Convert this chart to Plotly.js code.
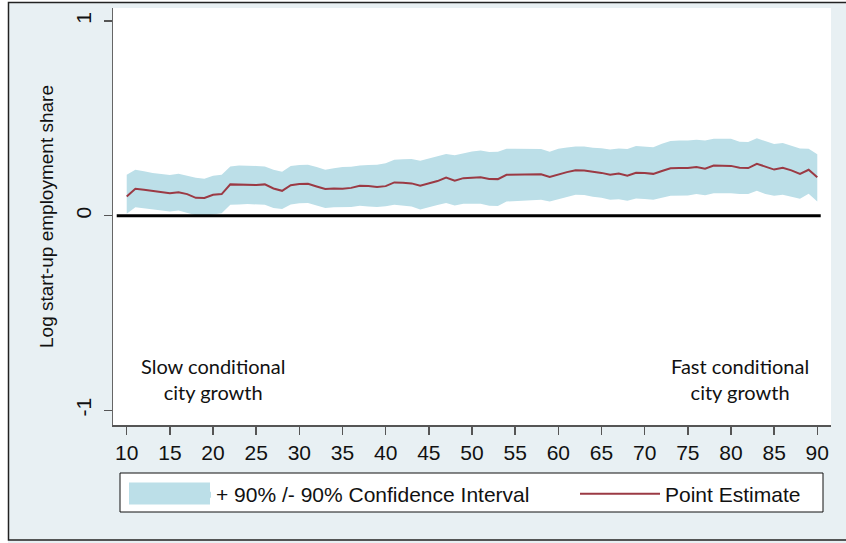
<!DOCTYPE html>
<html><head><meta charset="utf-8">
<script src="https://cdn.plot.ly/plotly-3.0.1.min.js"></script>
<style>html,body{margin:0;padding:0;background:#fff}#chart{width:846px;height:543px}</style>
</head><body><div id="chart"></div>
<script>
const xValues = [10,11,12,13,14,15,16,17,18,19,20,21,22,23,24,25,26,27,28,29,30,31,32,33,34,35,36,37,38,39,40,41,42,43,44,45,46,47,48,49,50,51,52,53,54,55,56,57,58,59,60,61,62,63,64,65,66,67,68,69,70,71,72,73,74,75,76,77,78,79,80,81,82,83,84,85,86,87,88,89,90];
const pointEstimate = [0.099,0.138,0.133,0.128,0.122,0.116,0.121,0.111,0.092,0.091,0.108,0.111,0.161,0.160,0.157,0.158,0.161,0.140,0.128,0.157,0.163,0.164,0.150,0.137,0.140,0.139,0.143,0.154,0.153,0.148,0.152,0.171,0.170,0.166,0.154,0.165,0.178,0.196,0.180,0.193,0.196,0.198,0.189,0.188,0.210,0.210,0.210,0.212,0.213,0.199,0.213,0.224,0.234,0.232,0.226,0.220,0.210,0.217,0.205,0.221,0.219,0.215,0.230,0.244,0.245,0.245,0.250,0.242,0.258,0.257,0.256,0.246,0.245,0.267,0.251,0.237,0.246,0.233,0.215,0.236,0.197];
const upperCI = [0.210,0.236,0.228,0.219,0.214,0.209,0.216,0.207,0.195,0.190,0.205,0.210,0.253,0.258,0.258,0.256,0.253,0.236,0.226,0.255,0.260,0.262,0.250,0.236,0.244,0.250,0.252,0.258,0.260,0.262,0.270,0.287,0.290,0.291,0.282,0.295,0.305,0.317,0.310,0.320,0.330,0.335,0.327,0.328,0.344,0.344,0.343,0.344,0.343,0.328,0.344,0.350,0.356,0.356,0.349,0.346,0.340,0.345,0.343,0.358,0.355,0.352,0.370,0.384,0.386,0.386,0.390,0.386,0.395,0.395,0.395,0.380,0.379,0.398,0.385,0.368,0.373,0.357,0.345,0.344,0.316];
const lowerCI = [0.010,0.044,0.039,0.034,0.028,0.022,0.027,0.015,0.003,0.000,0.005,0.013,0.056,0.058,0.060,0.058,0.056,0.040,0.034,0.058,0.064,0.065,0.052,0.040,0.044,0.046,0.045,0.051,0.048,0.045,0.049,0.056,0.052,0.047,0.032,0.045,0.055,0.065,0.053,0.061,0.063,0.062,0.051,0.050,0.073,0.075,0.077,0.080,0.082,0.073,0.084,0.096,0.108,0.107,0.098,0.092,0.082,0.085,0.077,0.088,0.086,0.082,0.092,0.102,0.103,0.104,0.111,0.105,0.116,0.116,0.116,0.112,0.112,0.128,0.112,0.103,0.108,0.099,0.087,0.113,0.073];
const xTickVals = [10,15,20,25,30,35,40,45,50,55,60,65,70,75,80,85,90];
const yTickVals = [-1,0,1];
const yTickText = ['-1','0','1'];
const seriesNames = ['+ 90% /- 90% Confidence Interval','Point Estimate'];
const noteLeft = 'Slow conditional<br>city growth';
const noteRight = 'Fast conditional<br>city growth';
const yTitle = 'Log start-up employment share';

const W = 846, H = 543, ML = 113, MR = 15, MT = 8, MB = 118;
const pw = W - ML - MR, ph = H - MT - MB;
const px = v => (v - ML) / pw;
const py = v => (H - MB - v) / ph;

const font = 'Arial, "Liberation Sans", sans-serif';
const noteFont = 'Lato, "Open Sans", sans-serif';
const bandColor = '#bcdfe8';
const lineColor = '#9b3a44';

// CI band as one closed polygon: upper bound left→right, lower bound right→left
const bandX = xValues.concat(xValues.slice().reverse());
const bandY = upperCI.concat(lowerCI.slice().reverse());

const traces = [
  {x: bandX, y: bandY, mode: 'lines', fill: 'toself', fillcolor: bandColor, line: {width: 0, color: bandColor},
   name: seriesNames[0], legend: 'legend', hoverinfo: 'skip'},
  {x: xValues, y: pointEstimate, mode: 'lines', line: {width: 2, color: lineColor}, name: seriesNames[1], legend: 'legend2'}
];

const legendFont = {family: font, size: 21, color: '#111'};

const layout = {
  width: W, height: H,
  margin: {l: ML, r: MR, t: MT, b: MB, pad: 0},
  paper_bgcolor: '#e8f0f3',
  plot_bgcolor: '#ffffff',
  font: {family: font, size: 19, color: '#111'},
  xaxis: {range: [8.41, 91.59], tickvals: xTickVals, ticks: 'outside', ticklen: 8, tickwidth: 1.5, tickcolor: '#555',
          showline: true, linecolor: '#555', linewidth: 1.5, showgrid: false, zeroline: false,
          tickfont: {family: font, size: 21, color: '#111'}},
  yaxis: {range: [-1.075, 1.067], tickvals: yTickVals, ticktext: yTickText, tickangle: -90, ticks: 'outside', ticklen: 8,
          tickwidth: 1.5, tickcolor: '#555', showline: true, linecolor: '#666', linewidth: 1.5, showgrid: false, zeroline: false,
          ticklabelstandoff: 4,
          tickfont: {family: font, size: 21, color: '#111'},
          title: {text: yTitle, font: {family: font, size: 19, color: '#111'}, standoff: 13}},
  showlegend: true,
  legend: {orientation: 'h', x: px(125), y: py(494), xanchor: 'left', yanchor: 'middle', bgcolor: 'rgba(0,0,0,0)', borderwidth: 0,
           itemwidth: 81, font: legendFont},
  legend2: {orientation: 'h', x: px(575), y: py(494), xanchor: 'left', yanchor: 'middle', bgcolor: 'rgba(0,0,0,0)', borderwidth: 0,
           itemwidth: 80, font: legendFont},
  shapes: [
    {type: 'rect', xref: 'paper', yref: 'paper', x0: px(0), x1: px(8), y0: py(0), y1: py(H), fillcolor: '#ffffff', line: {width: 0}, layer: 'below'},
    {type: 'rect', xref: 'paper', yref: 'paper', x0: px(0), x1: px(W), y0: py(0), y1: py(2), fillcolor: '#ffffff', line: {width: 0}, layer: 'below'},
    {type: 'rect', xref: 'paper', yref: 'paper', x0: px(8.5), x1: px(W + 10), y0: py(2.5), y1: py(540), fillcolor: 'rgba(0,0,0,0)', line: {width: 1.5, color: '#222'}, layer: 'above'},
    {type: 'rect', xref: 'paper', yref: 'paper', x0: px(120), x1: px(823), y0: py(473), y1: py(512), fillcolor: '#ffffff', line: {width: 1, color: '#111'}, layer: 'below'},
    // enlarged legend key for the confidence band (sits behind the legend's own swatch)
    {type: 'rect', xref: 'paper', yref: 'paper', x0: px(129), x1: px(210), y0: py(482.5), y1: py(504.5), fillcolor: bandColor, line: {width: 0}, layer: 'above'},
    {type: 'line', xref: 'x', yref: 'y', x0: 8.84, x1: 90.4, y0: 0, y1: 0, line: {width: 3, color: '#000'}, layer: 'above'}
  ],
  annotations: [
    {text: noteLeft, x: 19.94, y: -0.84, xref: 'x', yref: 'y', showarrow: false, xanchor: 'center', yanchor: 'middle',
     font: {family: noteFont, size: 20, color: '#111'}},
    {text: noteRight, x: 81.07, y: -0.84, xref: 'x', yref: 'y', showarrow: false, xanchor: 'center', yanchor: 'middle',
     font: {family: noteFont, size: 20, color: '#111'}}
  ]
};

Plotly.newPlot('chart', traces, layout, {displayModeBar: false, staticPlot: true});
</script></body></html>
